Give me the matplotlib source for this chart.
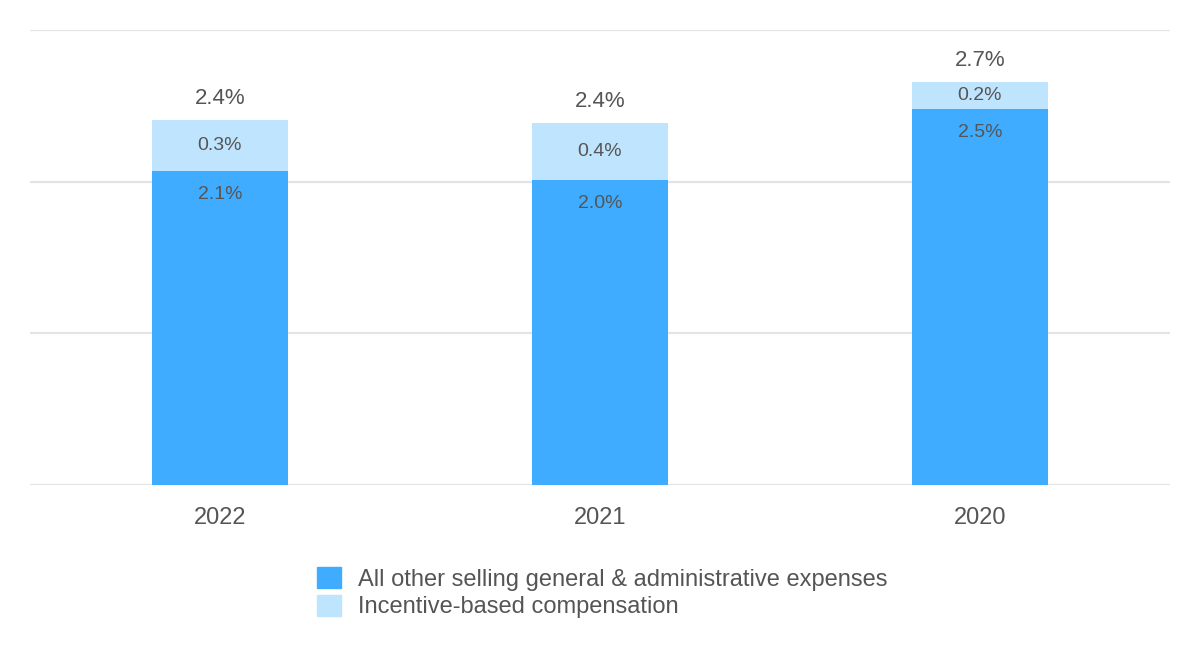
import matplotlib
matplotlib.use('Agg')
import matplotlib.pyplot as plt
from matplotlib.patches import Patch

plt.rcParams['font.family'] = ['Liberation Sans', 'DejaVu Sans']

# data (% of revenue)
years = ['2022', '2021', '2020']
other_sga = [2.07, 2.01, 2.48]
incentive = [0.34, 0.38, 0.18]

dark_blue = '#3facff'
light_blue = '#bfe4fe'
text_col = '#555555'

fig = plt.figure(figsize=(12, 6.6), dpi=100)
ax = fig.add_axes([0.025, 0.265, 0.95, 0.6895])

x = range(len(years))
w = 0.36
ax.bar(x, other_sga, width=w, color=dark_blue, zorder=2)
ax.bar(x, incentive, width=w, bottom=other_sga, color=light_blue, zorder=2)

for i in x:
    base = other_sga[i]
    inc = incentive[i]
    total = base + inc
    # base label just under top of dark segment
    ax.annotate('%.1f%%' % base, (i, base), xytext=(0, -17), textcoords='offset points',
                ha='center', va='center', fontsize=14, color=text_col)
    ax.text(i, base + inc / 2, '%.1f%%' % inc, ha='center', va='center',
            fontsize=14, color=text_col)
    ax.annotate('%.1f%%' % total, (i, total), xytext=(0, 15), textcoords='offset points',
                ha='center', va='center', fontsize=16, color=text_col)

ax.set_xlim(-0.5, 2.5)
ax.set_ylim(0, 3)
ax.set_yticks([0, 1, 2, 3])
ax.yaxis.grid(True, color='#e4e4e4', linewidth=1.6, zorder=0)
ax.set_yticklabels([])
ax.tick_params(axis='y', length=0)
ax.tick_params(axis='x', length=0, pad=16, labelsize=17, labelcolor=text_col)
ax.set_xticks(list(x))
ax.set_xticklabels(years)
for s in ax.spines.values():
    s.set_visible(False)
ax.set_axisbelow(True)

handles = [Patch(color=dark_blue, label='All other selling general & administrative expenses'),
           Patch(color=light_blue, label='Incentive-based compensation')]
leg = fig.legend(handles=handles, loc='upper center', bbox_to_anchor=(0.5015, 0.159),
                 frameon=False, fontsize=17, handlelength=1.02, handleheight=1.02,
                 handletextpad=0.72, labelspacing=0.17, borderpad=0)
for t in leg.get_texts():
    t.set_color(text_col)

fig.savefig('out.png')
